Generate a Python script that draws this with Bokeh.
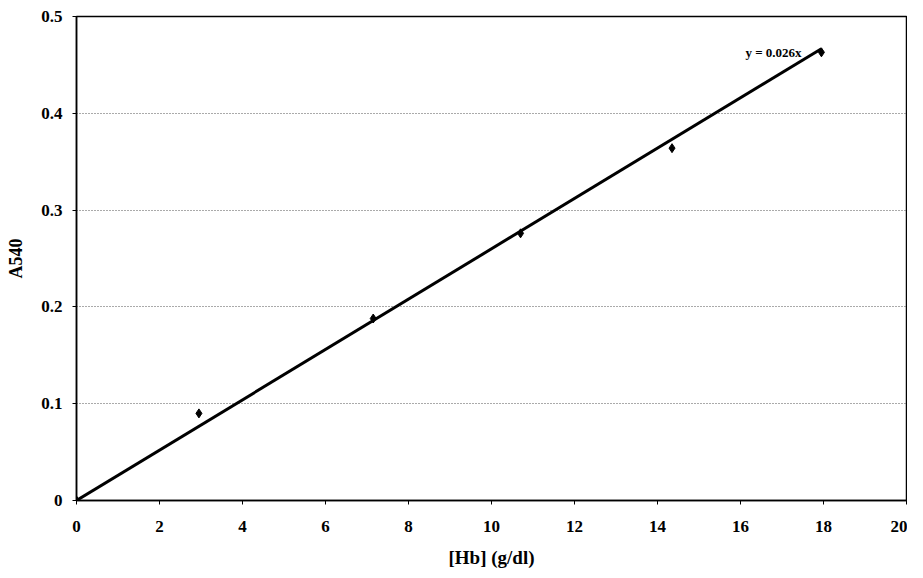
from bokeh.plotting import figure
from bokeh.models import Range1d, FixedTicker, Label
from bokeh.embed import file_html
from bokeh.resources import INLINE

# data
hb = [0, 2.95, 7.15, 10.7, 14.35, 17.95]
a540 = [0, 0.09, 0.188, 0.276, 0.364, 0.463]
slope = 0.026
fit_x = [0, 17.95]
fit_y = [slope * v for v in fit_x]
x_ticks = [0, 2, 4, 6, 8, 10, 12, 14, 16, 18, 20]
y_ticks = [0, 0.1, 0.2, 0.3, 0.4, 0.5]

FONT = "Liberation Serif"

p = figure(width=907, height=570, output_backend="svg", toolbar_location=None,
           x_range=Range1d(0, 20), y_range=Range1d(0, 0.5),
           min_border_left=76, min_border_right=1, min_border_top=16, min_border_bottom=70)
p.outline_line_color = "black"
p.outline_line_width = 1.5

p.xgrid.grid_line_color = None
p.ygrid.grid_line_color = "#555555"
p.ygrid.grid_line_dash = "1 2"
p.ygrid.grid_line_width = 1

p.xaxis.ticker = FixedTicker(ticks=x_ticks)
p.yaxis.ticker = FixedTicker(ticks=y_ticks)
p.yaxis.major_label_overrides = {0: "0", 0.1: "0.1", 0.2: "0.2", 0.3: "0.3", 0.4: "0.4", 0.5: "0.5"}
for ax in (p.xaxis, p.yaxis):
    ax.axis_line_color = "black"
    ax.axis_line_width = 1.5
    ax.major_tick_line_color = "black"
    ax.major_tick_out = 4
    ax.major_tick_in = 0
    ax.minor_tick_line_color = None
    ax.major_label_text_font = FONT
    ax.major_label_text_font_style = "bold"
    ax.major_label_text_font_size = "17px"
    ax.major_label_text_color = "black"
    ax.axis_label_text_font = FONT
    ax.axis_label_text_font_style = "bold"
    ax.axis_label_text_color = "black"
p.xaxis.axis_label_text_font_size = "19px"
p.yaxis.axis_label_text_font_size = "18px"
p.xaxis.major_label_standoff = 16
p.yaxis.major_label_standoff = 10
p.xaxis.axis_label = "[Hb] (g/dl)"
p.yaxis.axis_label = "A540"
p.xaxis.axis_label_standoff = 12
p.yaxis.axis_label_standoff = 12

p.line(fit_x, fit_y, line_color="black", line_width=3)
p.scatter(hb, a540, marker="diamond", size=9, color="black")

p.add_layout(Label(x=fit_x[1], y=a540[-1], text="y = 0.026x", x_offset=-76, y_offset=0,
                   text_baseline="middle",
                   text_font=FONT, text_font_style="bold", text_font_size="13px",
                   text_color="black"))

open("out.html", "w").write(file_html(p, INLINE))
